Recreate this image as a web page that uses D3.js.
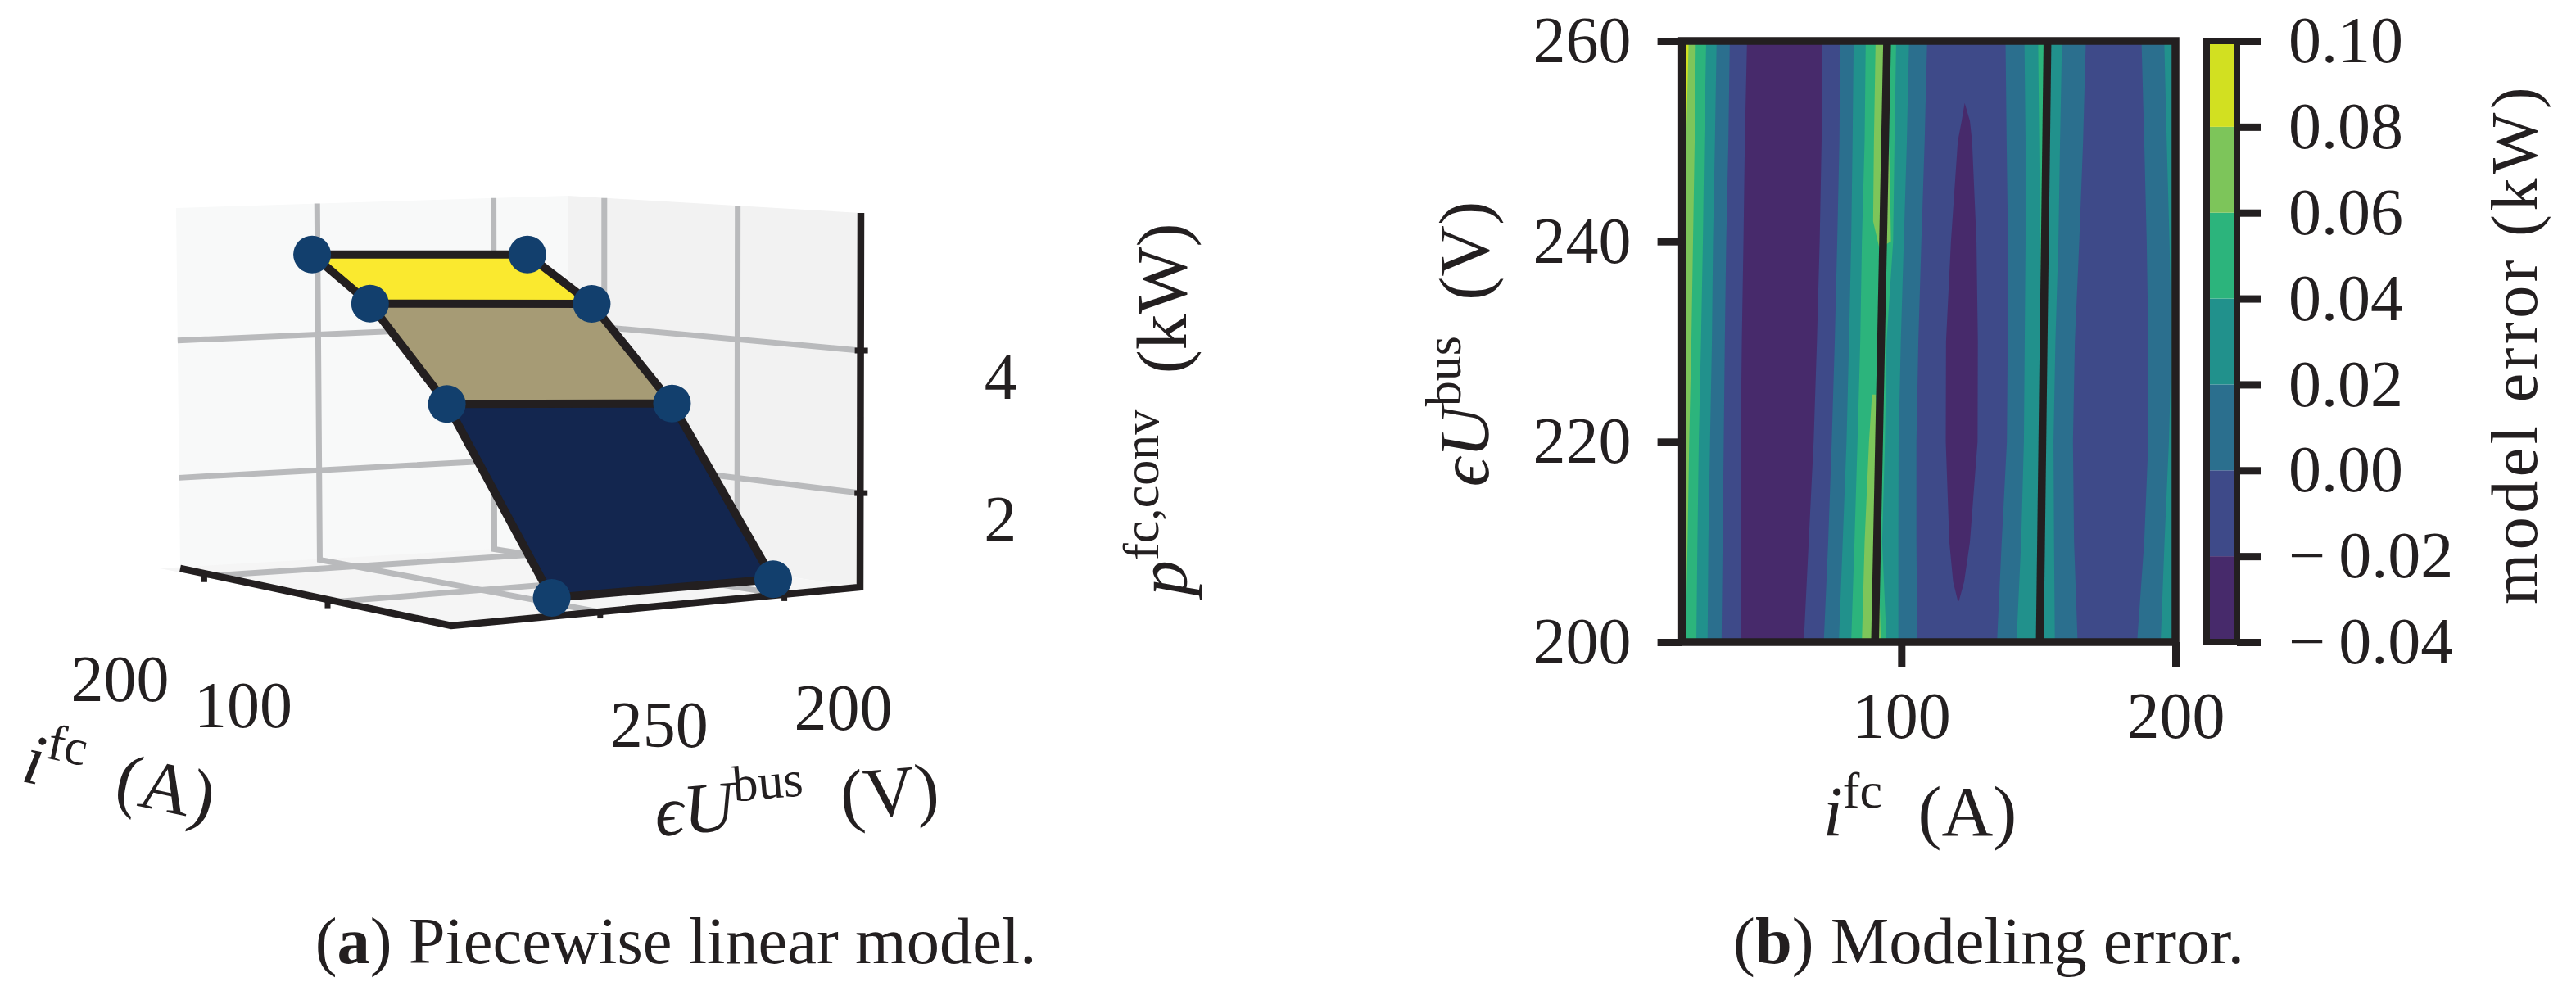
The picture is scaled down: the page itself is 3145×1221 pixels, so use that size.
<!DOCTYPE html>
<html>
<head>
<meta charset="utf-8">
<script src="https://cdnjs.cloudflare.com/ajax/libs/d3/7.8.5/d3.min.js"></script>
<style>
  html, body { margin: 0; padding: 0; background: #fff; }
  svg { display: block; }
  text { font-family: "Liberation Serif", serif; fill: #231f20; }
</style>
</head>
<body>
<svg id="svg" width="3145" height="1221"></svg>
<script>
// --- (a) piecewise linear surface, one row of vertices per current breakpoint
const surfI = [20, 92, 153, 200];
const surfUHigh = [258.5, 262.1, 261.9, 261.4];
const surfULow = [198.2, 200, 200, 200.7];
const surfPHigh = [0.87, 3.35, 4.63, 5.25];
const surfPLow = [0.85, 3.16, 4.48, 5.13];
const tickI3d = [100, 200];
const tickU3d = [200, 250];
const tickP3d = [2, 4];

// --- (b) contour data: current (A) of each band border at these bus voltages
const uLevels = [260, 250, 240, 230, 220, 210, 200];
const border1 = [22.4, 21.5, 20, 20, 20, 20, 20];
const border2 = [25.0, 24.6, 24.0, 23.4, 22.6, 22.0, 21.3];
const border3 = [28.8, 28.1, 27.6, 26.9, 26.1, 25.6, 25.2];
const border4 = [32.6, 32.0, 31.3, 30.9, 30.2, 29.6, 29.3];
const border5 = [37.4, 36.9, 36.1, 35.6, 35.2, 34.8, 34.4];
const border6 = [43.7, 42.9, 42.4, 41.8, 41.4, 41.4, 41.6];
const border7 = [71.2, 70.9, 70.2, 69.2, 68.0, 66.2, 64.4];
const border8 = [77.7, 77.4, 76.6, 75.7, 74.6, 73.3, 71.7];
const border9 = [82.6, 82.2, 81.7, 80.9, 80.0, 78.6, 77.2];
const border10 = [87.0, 86.6, 85.6, 85.0, 84.0, 82.9, 81.7];
const border11 = [98.1, 97.5, 97.0, 94.6, 94.0, 93.0, 94.6];
const border12 = [102.8, 102.0, 100.9, 99.8, 99.0, 98.9, 98.9];
const border13 = [109.4, 108.5, 107.3, 106.2, 105.5, 105.5, 105.8];
const border15 = [138.0, 138.4, 138.9, 138.8, 138.5, 136.6, 134.9];
const border16 = [144.9, 145.3, 145.3, 145.0, 144.7, 143.7, 142.0];
const border17 = [149.9, 150.3, 150.6, 151.2, 150.6, 150.0, 150.0];
const border17b = [153.3, 152.8, 152.4, 151.9, 151.4, 151.0, 150.5];
const border18 = [158.6, 157.9, 157.3, 156.2, 155.5, 155.7, 156.0];
const border19 = [167.3, 166.3, 164.9, 163.3, 162.6, 163.0, 164.3];
const border20 = [187.6, 188.6, 189.5, 190.1, 190.1, 188.6, 186.0];
const border21 = [195.9, 196.8, 197.8, 198.6, 197.6, 196.0, 194.6];

// islands of the same level, closed polygons [current, voltage]
const islandUpper = [[90.6, 260], [90.0, 250], [89.7, 242], [92.0, 239.3], [96.2, 240], [95.9, 245], [95.4, 250], [94.6, 260]];
const islandLower = [[89.3, 224.7], [88.2, 220], [86.6, 210], [85.6, 200], [92.5, 200], [92.0, 205], [91.0, 210], [91.3, 220], [90.6, 224.7]];
const purpleIsland = [[123.1, 253.8], [122.0, 252], [120.6, 250], [118.1, 240], [116.3, 230], [116.2, 220], [117.5, 210], [118.9, 206], [120.6, 204.1],
  [121.0, 204.1], [122.9, 206], [125.0, 210], [127.8, 220], [127.9, 230], [127.4, 240], [125.8, 250], [125.0, 252]];

// kink lines of the model
const lineI1 = [94.8, 90.4];
const lineI2 = [153.3, 150.5];
const lineU = [260, 200];

const colorLevels = [-0.04, -0.02, 0, 0.02, 0.04, 0.06, 0.08, 0.10];
const tickIb = [100, 200];
const tickUb = [200, 220, 240, 260];

// viridis band colours
const cPurple = "#472a6b", cIndigo = "#3e4a89", cBlue = "#2b6f8e", cTeal = "#21918c",
      cGreen = "#2cb47c", cLime = "#7dc55a", cYellow = "#d2e021";
const bandColors = [cPurple, cIndigo, cBlue, cTeal, cGreen, cLime, cYellow];
const surfColors = ["#13264f", "#a69b75", "#fae92f"];
const ink = "#231f20";
const gridColor = "#b9babc";
const dotColor = "#123f6d";

let svg = d3.select("svg");

// ---------------- panel (a) ----------------
// box corners on screen, the data goes in through three unit scales
const box = {
  F0: [551, 764], L0: [220, 694], R0: [1050, 717], B0: [693, 665],
  F1: [548, 284], L1: [215, 254], R1: [1051, 260], B1: [693, 239]
};
let scaleA = d3.scaleLinear().domain([7.7, 227.5]).range([0, 1]);
let scaleB = d3.scaleLinear().domain([290, 179]).range([0, 1]);
let scaleC = d3.scaleLinear().domain([0.68, 5.93]).range([0, 1]);

function unit(a, b, c) {
  let out = [0, 0];
  for (let k = 0; k < 2; k++) {
    let bottom = (1 - a) * (1 - b) * box.F0[k] + a * (1 - b) * box.L0[k] + (1 - a) * b * box.R0[k] + a * b * box.B0[k];
    let top = (1 - a) * (1 - b) * box.F1[k] + a * (1 - b) * box.L1[k] + (1 - a) * b * box.R1[k] + a * b * box.B1[k];
    out[k] = bottom * (1 - c) + top * c;
  }
  return out;
}
function project(i, u, p) {
  return unit(scaleA(i), scaleB(u), scaleC(p));
}

let a = svg.append("g");
let poly = d3.line();

a.append("path").attr("fill", "#f8f9f9").attr("d", poly([box.L0, box.B0, box.B1, box.L1]) + "Z");
a.append("path").attr("fill", "#f2f2f2").attr("d", poly([box.B0, box.R0, box.R1, box.B1]) + "Z");
a.append("path").attr("fill", "#f5f5f5").attr("d", poly([box.F0, box.R0, box.B0, [195, 694]]) + "Z");

let gridLines = [];
tickU3d.forEach(u => {
  let b = scaleB(u);
  gridLines.push([unit(1, b, 1), unit(1, b, 0), unit(0, b, 0)]);
});
tickI3d.forEach(i => {
  let t = scaleA(i);
  gridLines.push([unit(t, 1, 1), unit(t, 1, 0), unit(t, 0, 0)]);
});
tickP3d.forEach(p => {
  let c = scaleC(p);
  gridLines.push([unit(1, 0, c), unit(1, 1, c), unit(0, 1, c)]);
});
a.selectAll("path.grid").data(gridLines).enter().append("path")
  .attr("class", "grid")
  .attr("fill", "none")
  .attr("stroke", gridColor)
  .attr("stroke-width", 7)
  .attr("d", d => poly(d));

// axis lines and stubs
a.append("path").attr("fill", "none").attr("stroke", ink).attr("stroke-width", 8.5)
  .attr("stroke-linejoin", "miter")
  .attr("d", poly([box.L0, box.F0, box.R0, box.R1]));

let stubs = [];
tickI3d.forEach(i => {
  let q = unit(scaleA(i), 0, 0);
  stubs.push({ from: [q[0] - 12, q[1] - 2], to: [q[0] - 12, q[1] + 8], label: i, lx: -103, ly: 124, });
});
tickU3d.forEach(u => {
  let q = unit(0, scaleB(u), 0);
  stubs.push({ from: [q[0] + 2, q[1] - 2], to: [q[0] + 2, q[1] + 8], label: u, lx: 72, ly: 136 });
});
tickP3d.forEach(p => {
  let q = unit(0, 1, scaleC(p));
  stubs.push({ from: [q[0] - 7, q[1]], to: [q[0] + 9, q[1]], label: p, lx: 170, ly: 33 });
});
a.selectAll("path.stub").data(stubs).enter().append("path")
  .attr("class", "stub")
  .attr("stroke", ink)
  .attr("stroke-width", 7)
  .attr("d", d => poly([d.from, d.to]));
a.selectAll("text.tick3d").data(stubs).enter().append("text")
  .attr("class", "tick3d")
  .attr("font-size", 80)
  .attr("text-anchor", "middle")
  .attr("dy", "0.33em")
  .attr("x", d => (d.from[0] + d.to[0]) / 2 + d.lx)
  .attr("y", d => (d.from[1] + d.to[1]) / 2 + d.ly)
  .text(d => d.label);

// surface rows from low to high power
let rowHigh = surfI.map((i, k) => project(i, surfUHigh[k], surfPHigh[k]));
let rowLow = surfI.map((i, k) => project(i, surfULow[k], surfPLow[k]));
surfColors.forEach((c, k) => {
  a.append("path").attr("fill", c)
    .attr("d", poly([rowHigh[k], rowLow[k], rowLow[k + 1], rowHigh[k + 1]]) + "Z");
});
let edges = [rowHigh, rowLow];
surfI.forEach((i, k) => edges.push([rowHigh[k], rowLow[k]]));
a.selectAll("path.edge").data(edges).enter().append("path")
  .attr("class", "edge")
  .attr("fill", "none")
  .attr("stroke", ink)
  .attr("stroke-width", 10)
  .attr("d", d => poly(d));
a.selectAll("circle").data(rowHigh.concat(rowLow)).enter().append("circle")
  .attr("cx", d => d[0])
  .attr("cy", d => d[1])
  .attr("r", 23)
  .attr("fill", dotColor);

// math labels with a raised part
function mathLabel(g, parts) {
  let t = g.append("text").attr("font-size", 87).attr("text-anchor", "middle");
  parts.forEach(part => {
    let s = t.append("tspan").text(part.s);
    if (part.italic) s.attr("font-style", "italic");
    if (part.sup) s.attr("font-size", 62).attr("dy", -34);
    if (part.down) s.attr("dy", 34);
  });
  return t;
}
const labelCurrent = [{ s: "i", italic: true }, { s: "fc", sup: true }, { s: "\u00a0\u00a0(", down: true }, { s: "A)" }];
const labelVoltage = [{ s: "\u03f5U", italic: true }, { s: "bus", sup: true }, { s: "\u00a0\u00a0(", down: true }, { s: "V)" }];
const labelPower = [{ s: "p", italic: true }, { s: "fc,conv", sup: true }, { s: "\u00a0\u00a0(", down: true }, { s: "kW)" }];

mathLabel(a, labelCurrent).attr("transform", "translate(140,978) rotate(12)");
mathLabel(a, labelVoltage).attr("transform", "translate(975,1006) rotate(-5)");
mathLabel(a, labelPower).attr("transform", "translate(1448,500) rotate(-90)");

// ---------------- panel (b) ----------------
let b = svg.append("g");
let x = d3.scaleLinear().domain([20, 200]).range([2053.6, 2656]);
let y = d3.scaleLinear().domain([200, 260]).range([784, 50]);

b.append("clipPath").attr("id", "plotClip").append("rect")
  .attr("x", x(20)).attr("y", y(260))
  .attr("width", x(200) - x(20)).attr("height", y(200) - y(260));
let bands = b.append("g").attr("clip-path", "url(#plotClip)");

bands.append("rect")
  .attr("x", x(20)).attr("y", y(260))
  .attr("width", x(200) - x(20)).attr("height", y(200) - y(260))
  .attr("fill", cYellow);

let area = d3.area()
  .y((d, k) => y(uLevels[k]))
  .x0(d => x(d))
  .x1(x(200));
function band(border, color) {
  bands.append("path").attr("fill", color).attr("d", area(border));
}
let polyXY = pts => poly(pts.map(d => [x(d[0]), y(d[1])])) + "Z";

band(border1, cLime);
band(border2, cGreen);
band(border3, cTeal);
band(border4, cBlue);
band(border5, cIndigo);
band(border6, cPurple);
band(border7, cIndigo);
band(border8, cBlue);
band(border9, cTeal);
band(border10, cGreen);
bands.append("path").attr("fill", cLime).attr("d", polyXY(islandUpper));
bands.append("path").attr("fill", cLime).attr("d", polyXY(islandLower));
band(border11, cTeal);
band(border12, cBlue);
band(border13, cIndigo);
bands.append("path").attr("fill", cPurple).attr("d", polyXY(purpleIsland));
band(border15, cBlue);
band(border16, cTeal);
band(border17, cGreen);
band(border17b, cTeal);
band(border18, cBlue);
band(border19, cIndigo);
band(border20, cBlue);
band(border21, cTeal);

[lineI1, lineI2].forEach(line => {
  b.append("path").attr("fill", "none").attr("stroke", ink).attr("stroke-width", 9.5)
    .attr("d", poly(line.map((d, k) => [x(d), y(lineU[k])])));
});

b.append("rect")
  .attr("x", x(20)).attr("y", y(260))
  .attr("width", x(200) - x(20)).attr("height", y(200) - y(260))
  .attr("fill", "none").attr("stroke", ink).attr("stroke-width", 9.5);

function styleAxis(g) {
  g.select(".domain").remove();
  g.selectAll(".tick line").attr("stroke", ink).attr("stroke-width", 9);
  g.selectAll(".tick text").attr("font-size", 80).attr("fill", ink)
    .attr("font-family", "Liberation Serif, serif");
}

b.append("g")
  .attr("transform", "translate(0," + y(200) + ")")
  .call(d3.axisBottom(x).tickValues(tickIb).tickSize(31).tickPadding(29).tickFormat(d3.format("d")))
  .call(styleAxis);
b.append("g")
  .attr("transform", "translate(" + x(20) + ",0)")
  .call(d3.axisLeft(y).tickValues(tickUb).tickSize(30).tickPadding(32).tickFormat(d3.format("d")))
  .call(styleAxis);

mathLabel(b, labelCurrent).attr("transform", "translate(2344,1020)");
mathLabel(b, labelVoltage).attr("transform", "translate(1817,420) rotate(-90)");

// colour bar
let c = d3.scaleLinear().domain([-0.04, 0.10]).range([784, 50]);
let barX = 2698, barW = 29;
b.selectAll("rect.level").data(bandColors).enter().append("rect")
  .attr("class", "level")
  .attr("x", barX)
  .attr("width", barW)
  .attr("y", (d, k) => c(colorLevels[k + 1]))
  .attr("height", (d, k) => c(colorLevels[k]) - c(colorLevels[k + 1]))
  .attr("fill", d => d);
b.append("rect")
  .attr("x", barX - 4).attr("y", c(0.10))
  .attr("width", barW + 8).attr("height", c(-0.04) - c(0.10))
  .attr("fill", "none").attr("stroke", ink).attr("stroke-width", 8);
let twoDec = d3.format(".2f");
b.append("g")
  .attr("transform", "translate(" + (barX + barW + 4) + ",0)")
  .call(d3.axisRight(c).tickValues(colorLevels).tickSize(30).tickPadding(33)
    .tickFormat(d => d < 0 ? "\u2212\u2009" + twoDec(-d) : twoDec(d)))
  .call(styleAxis);

b.append("text")
  .attr("font-size", 80)
  .attr("text-anchor", "middle")
  .attr("letter-spacing", 4.5)
  .attr("transform", "translate(3097,420) rotate(-90)")
  .text("model error (kW)");

// ---------------- captions ----------------
function caption(cx, letter, rest) {
  let t = svg.append("text")
    .attr("x", cx).attr("y", 1176)
    .attr("font-size", 80.5)
    .attr("text-anchor", "middle");
  t.append("tspan").text("(");
  t.append("tspan").attr("font-weight", "bold").text(letter);
  t.append("tspan").text(") " + rest);
}
caption(825, "a", "Piecewise linear model.");
caption(2428, "b", "Modeling error.");
</script>
</body>
</html>
